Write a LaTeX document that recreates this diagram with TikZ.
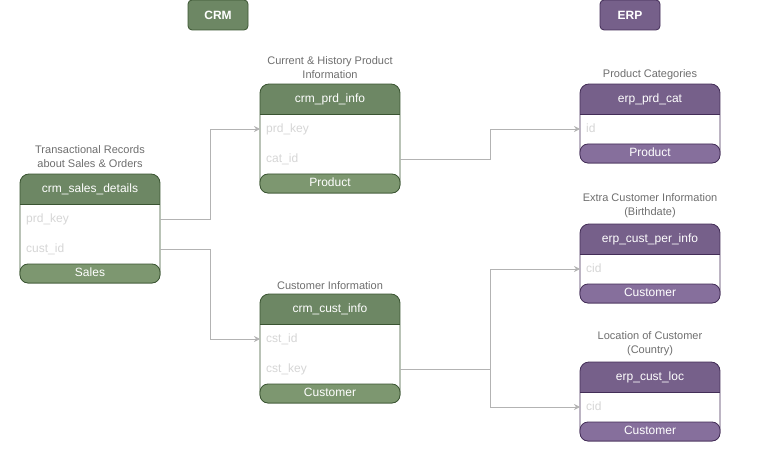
\documentclass[tikz,border=0pt]{standalone}
\usepackage{fontspec}
\setmainfont{Liberation Sans}
\usetikzlibrary{arrows.meta}
\definecolor{gfill}{HTML}{6D8764}
\definecolor{gline}{HTML}{3A5431}
\definecolor{gfoot}{HTML}{7D9770}
\definecolor{pfill}{HTML}{76608A}
\definecolor{pline}{HTML}{432D57}
\definecolor{pfoot}{HTML}{866F9C}
\definecolor{conncol}{HTML}{B3B3B3}
\definecolor{rowcol}{HTML}{D6D6D6}
\definecolor{labcol}{HTML}{6E6E6E}
\newcommand{\tablebox}[7]{%
  \begin{scope}
    \clip[rounded corners=9pt] (#2,#3) rectangle (#2+140,#4);
    \fill[white] (#2,#3) rectangle (#2+140,#4);
    \fill[#5fill] (#2,#3) rectangle (#2+140,#3+30);
  \end{scope}
  \draw[#5line, line width=0.8pt] (#2,#3+30) -- (#2+140,#3+30);
  \draw[#5line, line width=0.8pt, rounded corners=9pt] (#2,#3) rectangle (#2+140,#4);
  \draw[#5line, line width=0.8pt, fill=#5foot, rounded corners=8pt] (#2,#4-19) rectangle (#2+140,#4);
  \node[hdr] (#1-t) at (#2+70,#3+15) {#6};
  \node[ftr] (#1-f) at (#2+70,#4-9.5) {#7};
}
\tikzset{
  txtbox/.style={text height=8.6pt, text depth=2.4pt, inner sep=0pt},
  hdr/.style={txtbox, text=white, font=\fontsize{12}{14}\selectfont},
  ftr/.style={txtbox, text=white, font=\fontsize{12}{14}\selectfont},
  rowtxt/.style={txtbox, text=rowcol, font=\fontsize{12}{14}\selectfont, anchor=west},
  lab/.style={text=labcol, font=\fontsize{11}{14}\selectfont, align=center, inner sep=0pt},
  grp/.style={rounded corners=4pt, line width=0.8pt, minimum width=60pt, minimum height=30pt, text=white, font=\bfseries\fontsize{12}{14}\selectfont},
  conn/.style={draw=conncol, line width=0.8pt, -{Stealth[length=6pt,width=6pt]}, rounded corners=0pt},
}
\begin{document}
\begin{tikzpicture}[x=1pt,y=-1pt]
\useasboundingbox (0,0) rectangle (781,465);
% group labels
\node[grp, draw=gline, fill=gfill] (crm) at (218,15) {CRM};
\node[grp, draw=pline, fill=pfill] (erp) at (630,15) {ERP};

% tables
\tablebox{sd}{20}{174}{283}{g}{crm\_sales\_details}{Sales}
\tablebox{pi}{260}{84}{193}{g}{crm\_prd\_info}{Product}
\tablebox{ci}{260}{294}{403}{g}{crm\_cust\_info}{Customer}
\tablebox{pc}{580}{84}{163}{p}{erp\_prd\_cat}{Product}
\tablebox{cp}{580}{224}{303}{p}{erp\_cust\_per\_info}{Customer}
\tablebox{cl}{580}{362}{441}{p}{erp\_cust\_loc}{Customer}

% descriptions
\node[lab] (sd-l) at (90,157) {Transactional Records\\about Sales \& Orders};
\node[lab] (pi-l) at (330,68) {Current \& History Product\\Information};
\node[lab] (ci-l) at (330,285.5) {Customer Information};
\node[lab] (pc-l) at (650,74.5) {Product Categories};
\node[lab] (cp-l) at (650,205.5) {Extra Customer Information\\(Birthdate)};
\node[lab] (cl-l) at (650,343.5) {Location of Customer\\(Country)};

% rows
\node[rowtxt] (sd-r1) at (26,219) {prd\_key};
\node[rowtxt] (sd-r2) at (26,249) {cust\_id};
\node[rowtxt] (pi-r1) at (266,129) {prd\_key};
\node[rowtxt] (pi-r2) at (266,159) {cat\_id};
\node[rowtxt] (ci-r1) at (266,339) {cst\_id};
\node[rowtxt] (ci-r2) at (266,369) {cst\_key};
\node[rowtxt] (pc-r1) at (586,129) {id};
\node[rowtxt] (cp-r1) at (586,269) {cid};
\node[rowtxt] (cl-r1) at (586,407) {cid};

% connector ports
\coordinate (sd-o1) at (160,219);
\coordinate (sd-o2) at (160,249);
\coordinate (pi-i1) at (260,129);
\coordinate (pi-o2) at (400,159);
\coordinate (ci-i1) at (260,339);
\coordinate (ci-o2) at (400,369);
\coordinate (pc-i1) at (580,129);
\coordinate (cp-i1) at (580,269);
\coordinate (cl-i1) at (580,407);

% connectors
\draw[conn] (sd-o1) -- ++(50,0) |- (pi-i1);
\draw[conn] (sd-o2) -- ++(50,0) |- (ci-i1);
\draw[conn] (pi-o2) -- ++(90,0) |- (pc-i1);
\draw[conn] (ci-o2) -- ++(90,0) |- (cp-i1);
\draw[conn] (ci-o2) -- ++(90,0) |- (cl-i1);
\end{tikzpicture}
\end{document}
